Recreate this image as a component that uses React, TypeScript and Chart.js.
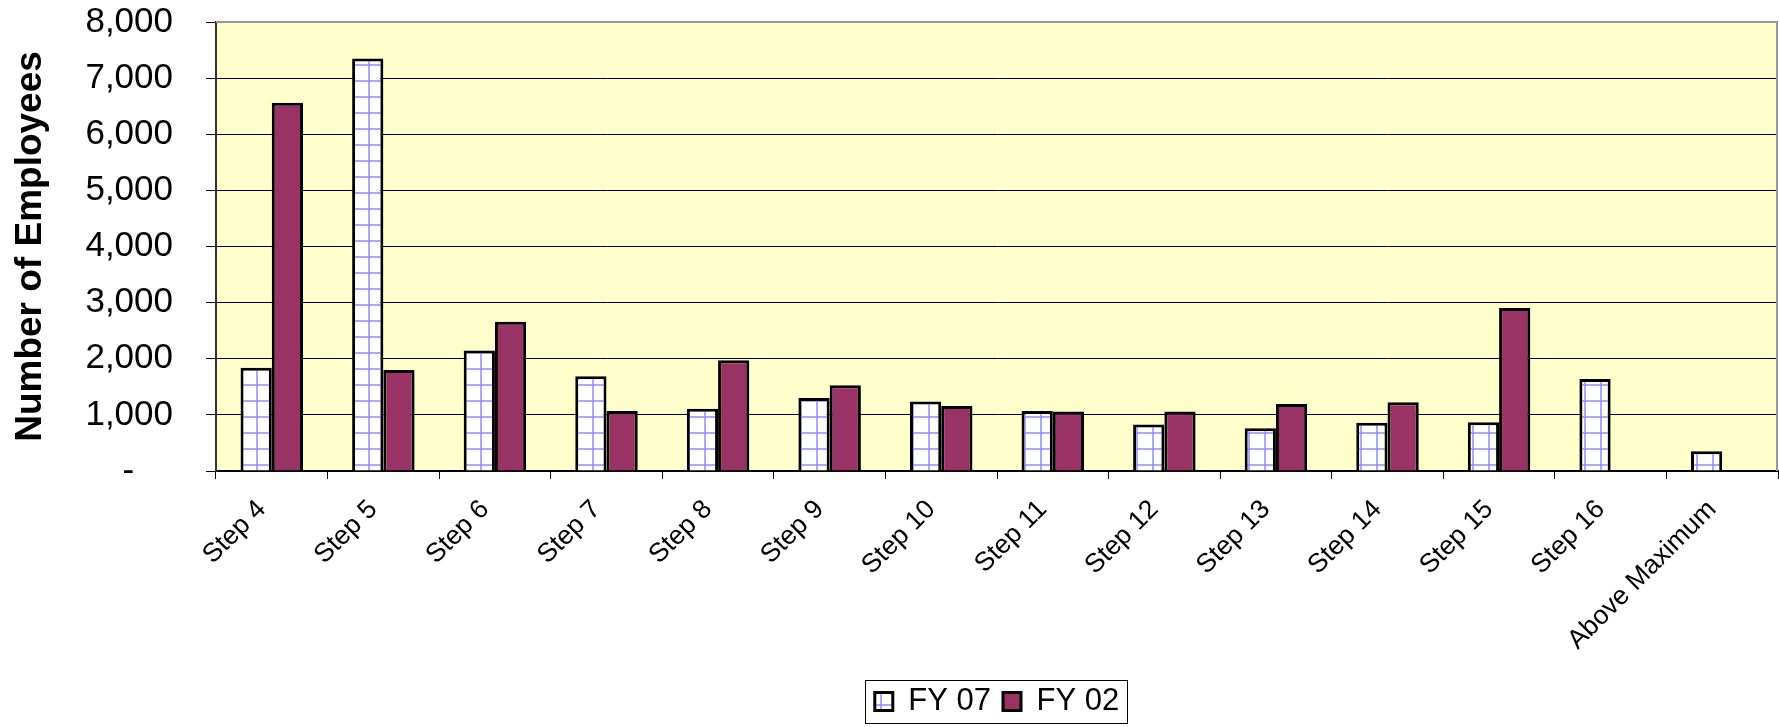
import React, { useEffect, useRef } from 'react';
import { Chart, registerables } from 'chart.js';

Chart.register(...registerables);

const categories = [
  'Step 4', 'Step 5', 'Step 6', 'Step 7', 'Step 8', 'Step 9', 'Step 10',
  'Step 11', 'Step 12', 'Step 13', 'Step 14', 'Step 15', 'Step 16', 'Above Maximum',
];
const fy07 = [1840, 7350, 2145, 1690, 1110, 1300, 1240, 1070, 830, 760, 860, 870, 1640, 350];
const fy02 = [6560, 1800, 2660, 1070, 1975, 1530, 1160, 1060, 1060, 1195, 1225, 2905, null, null];
const seriesLabels = ['FY 07', 'FY 02'];
const yAxisTitle = 'Number of Employees';

const FONT = "'Liberation Sans', Arial, Helvetica, sans-serif";

function makeGridPattern(): CanvasPattern | string {
  const c = document.createElement('canvas');
  c.width = 16;
  c.height = 16;
  const g = c.getContext('2d');
  if (!g) return '#ffffff';
  g.fillStyle = '#ffffff';
  g.fillRect(0, 0, 16, 16);
  g.fillStyle = 'rgba(140,140,255,0.75)';
  g.fillRect(0, 0, 16, 2);
  g.fillRect(0, 0, 2, 16);
  const p = g.createPattern(c, 'repeat');
  return p || '#ffffff';
}

const plotDecor = {
  id: 'plotDecor',
  beforeDraw(chart: any) {
    const { ctx, chartArea } = chart;
    ctx.save();
    ctx.fillStyle = '#FFFFCC';
    ctx.fillRect(chartArea.left, chartArea.top, chartArea.right - chartArea.left, chartArea.bottom - chartArea.top);
    ctx.restore();
  },
  afterDraw(chart: any) {
    const { ctx, chartArea } = chart;
    ctx.save();
    ctx.strokeStyle = '#999999';
    ctx.lineWidth = 2;
    ctx.beginPath();
    ctx.moveTo(chartArea.left, chartArea.top);
    ctx.lineTo(chartArea.right - 1, chartArea.top);
    ctx.lineTo(chartArea.right - 1, chartArea.bottom);
    ctx.stroke();
    const lg = chart.legend;
    if (lg && lg.legendHitBoxes && lg.legendHitBoxes.length) {
      let minX = Infinity, maxX = -Infinity, minY = Infinity, maxY = -Infinity;
      for (const hb of lg.legendHitBoxes) {
        minX = Math.min(minX, hb.left);
        maxX = Math.max(maxX, hb.left + hb.width);
        minY = Math.min(minY, hb.top);
        maxY = Math.max(maxY, hb.top + hb.height);
      }
      ctx.strokeStyle = '#000000';
      ctx.lineWidth = 1;
      ctx.strokeRect(Math.round(minX - 10) + 0.5, Math.round(minY - 6) + 0.5, Math.round(maxX - minX + 18), Math.round(maxY - minY + 12));
    }
    ctx.restore();
  },
};

export default function App() {
  const ref = useRef<HTMLCanvasElement | null>(null);

  useEffect(() => {
    if (!ref.current) return;
    const pattern = makeGridPattern();
    const chart = new Chart(ref.current, {
      type: 'bar',
      data: {
        labels: categories,
        datasets: [
          {
            label: seriesLabels[0],
            data: fy07,
            backgroundColor: pattern as any,
            borderColor: '#000000',
            borderWidth: 3,
            categoryPercentage: 0.56,
            barPercentage: 1.0,
          },
          {
            label: seriesLabels[1],
            data: fy02 as any,
            backgroundColor: '#993366',
            borderColor: '#000000',
            borderWidth: 3,
            categoryPercentage: 0.56,
            barPercentage: 1.0,
          },
        ],
      },
      options: {
        animation: false,
        responsive: true,
        maintainAspectRatio: false,
        layout: { padding: { left: 0, top: 22, right: 1, bottom: 0 } },
        plugins: {
          legend: {
            position: 'bottom',
            fullSize: false,
            labels: {
              font: { family: FONT, size: 31 },
              color: '#000000',
              boxWidth: 18,
              boxHeight: 18,
              padding: 12,
            },
          },
          tooltip: { enabled: false },
        },
        scales: {
          x: {
            grid: {
              drawOnChartArea: false,
              drawTicks: true,
              tickLength: 8,
              tickColor: '#000000',
              tickWidth: 1,
              offset: true,
            },
            border: { color: '#000000', width: 2 },
            ticks: {
              minRotation: 45,
              maxRotation: 45,
              autoSkip: false,
              padding: 15,
              labelOffset: -10,
              color: '#000000',
              font: { family: FONT, size: 26.5 },
            },
            afterFit: (s: any) => {
              s.height = 203;
              s.paddingLeft = 0;
              s.paddingRight = 0;
            },
          },
          y: {
            min: 0,
            max: 8000,
            ticks: {
              stepSize: 1000,
              padding: 33,
              color: '#000000',
              font: { family: FONT, size: 35 },
              callback: (v: any) => (Number(v) === 0 ? '-\u2007\u2007' : Number(v).toLocaleString('en-US')),
            },
            grid: {
              color: '#000000',
              lineWidth: 1,
              tickLength: 10,
              tickColor: '#000000',
            },
            border: { color: '#333333', width: 2 },
            title: {
              display: true,
              text: yAxisTitle,
              color: '#000000',
              font: { family: FONT, size: 37, weight: 'bold' },
              padding: { top: 9, bottom: 0 },
            },
            afterFit: (s: any) => {
              s.width = 216;
              s.paddingTop = 0;
              s.paddingBottom = 0;
            },
          },
        },
      },
      plugins: [plotDecor],
    });
    return () => chart.destroy();
  }, []);

  return (
    <div style={{ position: 'fixed', left: 0, top: 0, width: 1779, height: 727, background: '#ffffff' }}>
      <canvas ref={ref} />
    </div>
  );
}
